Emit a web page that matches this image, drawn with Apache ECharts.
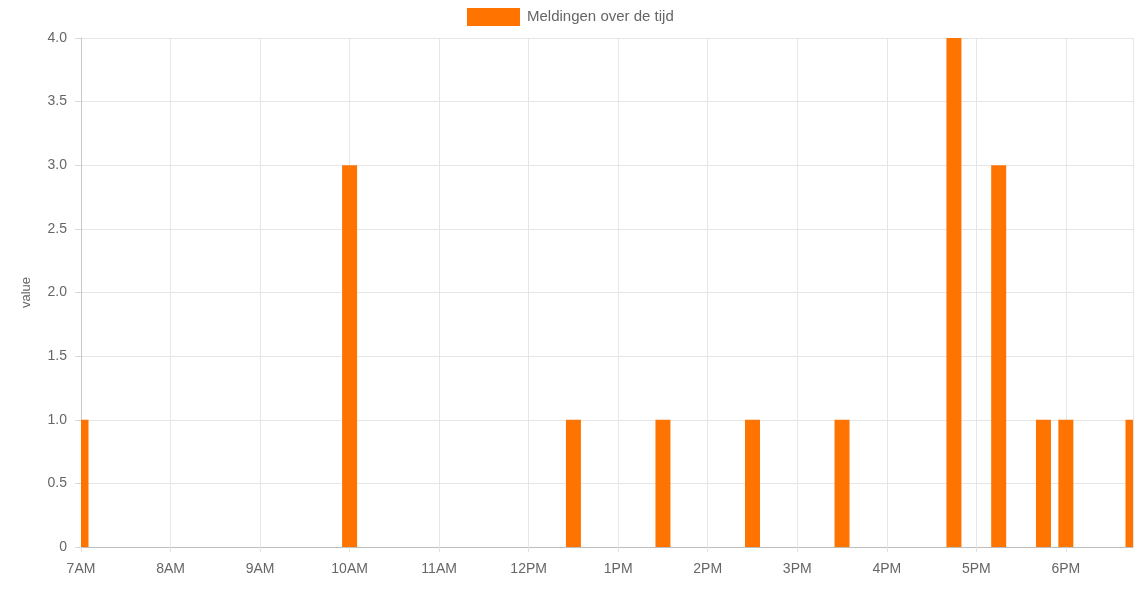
<!DOCTYPE html>
<html>
<head>
<meta charset="utf-8">
<script src="https://cdn.jsdelivr.net/npm/echarts@6/dist/echarts.min.js"></script>
<style>
  html, body { margin: 0; padding: 0; background: #fff; }
  #main { width: 1147px; height: 597px; }
</style>
</head>
<body>
<div id="main"></div>
<script>
// tijdstippen (15-minuten bakjes) en aantal meldingen
var times = ["07:00", "10:00", "12:30", "13:30", "14:30", "15:30", "16:45", "17:15", "17:45", "18:00", "18:45"];
var counts = [1, 3, 1, 1, 1, 1, 4, 3, 1, 1, 1];
var seriesName = "Meldingen over de tijd";
var barColor = "#ff7300";

function toHours(t) {
  var p = t.split(":");
  return Number(p[0]) + Number(p[1]) / 60;
}

function hourLabel(v) {
  var h = Math.round(v);
  var hh = h % 12 || 12;
  return hh + (h < 12 ? "AM" : "PM");
}

var points = [];
for (var i = 0; i < times.length; i++) {
  points.push([toHours(times[i]), counts[i]]);
}

// balken zelf tekenen zodat ze aan de rand van het plotvlak afgeknipt worden
function renderBar(params, api) {
  var x = api.value(0);
  var top = api.coord([x, api.value(1)]);
  var base = api.coord([x, 0]);
  var w = 15;
  var cs = params.coordSys;
  var shape = echarts.graphic.clipRectByRect(
    { x: top[0] - w / 2, y: top[1], width: w, height: base[1] - top[1] },
    { x: cs.x, y: cs.y, width: cs.width, height: cs.height }
  );
  return shape && { type: "rect", shape: shape, style: { fill: barColor } };
}

var myChart = echarts.init(document.getElementById("main"));
var option = {
  animation: false,
  textStyle: { fontFamily: "Arial, 'Liberation Sans', sans-serif" },
  legend: {
    top: 8,
    left: 467,
    padding: 0,
    itemWidth: 53,
    itemHeight: 18,
    icon: "rect",
    textStyle: { color: "#666", fontSize: 15, padding: [0, 0, 0, 2] },
    data: [seriesName]
  },
  grid: { left: 81, right: 14, top: 38, bottom: 50, containLabel: false },
  xAxis: {
    type: "value",
    min: 7,
    max: 18.75,
    interval: 1,
    axisLine: { show: true, lineStyle: { color: "#bdbdbd" } },
    axisTick: { show: true, length: 5, lineStyle: { color: "#e0e0e0" } },
    axisLabel: {
      color: "#666",
      fontSize: 14,
      margin: 15,
      showMaxLabel: false,
      formatter: hourLabel
    },
    splitLine: { show: true, lineStyle: { color: "#e6e6e6" } }
  },
  yAxis: {
    type: "value",
    name: "value",
    nameLocation: "middle",
    nameGap: 48,
    nameTextStyle: { color: "#666", fontSize: 13 },
    min: 0,
    max: 4,
    interval: 0.5,
    axisLine: { show: true, lineStyle: { color: "#c8c8c8" } },
    axisTick: { show: true, length: 6, lineStyle: { color: "#d8d8d8" } },
    axisLabel: {
      color: "#666",
      fontSize: 14,
      margin: 14,
      formatter: function (v) { return v === 0 ? "0" : v.toFixed(1); }
    },
    splitLine: { show: true, lineStyle: { color: "#e6e6e6" } }
  },
  series: [
    {
      name: seriesName,
      type: "custom",
      renderItem: renderBar,
      itemStyle: { color: barColor },
      encode: { x: 0, y: 1 },
      data: points
    }
  ]
};
myChart.setOption(option);
</script>
</body>
</html>
